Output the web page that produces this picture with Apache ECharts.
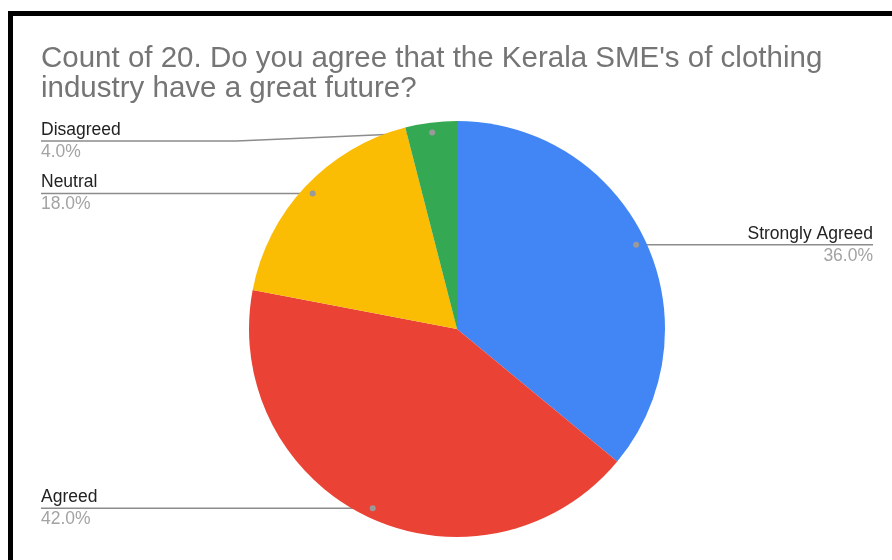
<!DOCTYPE html>
<html>
<head>
<meta charset="utf-8">
<script src="https://cdn.jsdelivr.net/npm/echarts@6/dist/echarts.min.js"></script>
<style>
  html, body { margin: 0; padding: 0; background: #fff; }
  #chart { width: 892px; height: 560px; }
</style>
</head>
<body>
<div id="chart"></div>
<script>
// Survey answers (response counts) and slice colours
const categories = ['Strongly Agreed', 'Agreed', 'Neutral', 'Disagreed'];
const counts = [18, 21, 9, 2];
const colors = ['#4285F4', '#EA4335', '#FBBC04', '#34A853'];
const titleLines = ["Count of 20. Do you agree that the Kerala SME's of clothing", 'industry have a great future?'];

// Pie geometry
const CX = 457, CY = 329, R = 208;
const DOT_R = 198;          // radius where leader lines start
const LEFT_EDGE = 41, RIGHT_EDGE = 873;
const LABEL_MIN_Y = 141;    // keep labels clear of the title

const total = counts.reduce((a, b) => a + b, 0);

// Leader-line geometry per slice, from each slice's mid-angle (clockwise from 12 o'clock)
const guides = [];
let cum = 0;
counts.forEach((v, i) => {
  const f = (cum + v / 2) / total;
  cum += v;
  const a = f * 2 * Math.PI;
  const dx = CX + DOT_R * Math.sin(a);
  const dy = CY - DOT_R * Math.cos(a);
  const left = dx < CX;
  const ly = Math.max(dy, LABEL_MIN_Y);
  const ex = left ? LEFT_EDGE : RIGHT_EDGE;
  const bx = ly === dy ? dx : (dx + ex) / 2;
  guides.push({ dx, dy, ly, ex, bx, left });
});

const chart = echarts.init(document.getElementById('chart'), null, { renderer: 'canvas' });

const font = '"Liberation Sans", Arial, sans-serif';

const graphics = [
  // frame along the top and left
  { type: 'rect', shape: { x: 8, y: 11, width: 884, height: 5 }, style: { fill: '#000' }, z: 100 },
  { type: 'rect', shape: { x: 8, y: 11, width: 5, height: 549 }, style: { fill: '#000' }, z: 100 }
];
guides.forEach(g => {
  graphics.push({ type: 'circle', shape: { cx: g.dx, cy: g.dy, r: 3 }, style: { fill: '#9a9a9a' }, z: 100 });
});

chart.setOption({
  animation: false,
  backgroundColor: '#ffffff',
  title: {
    text: titleLines.join('\n'),
    left: 36,
    top: 39,
    textStyle: {
      fontFamily: font,
      fontSize: 29.5,
      fontWeight: 'normal',
      color: '#757575',
      lineHeight: 30
    }
  },
  graphic: graphics,
  series: [{
    type: 'pie',
    center: [CX, CY],
    radius: [0, R],
    startAngle: 90,
    clockwise: true,
    data: categories.map((name, i) => ({ name, value: counts[i], itemStyle: { color: colors[i] } })),
    label: {
      show: true,
      position: 'outer',
      fontFamily: font,
      formatter: p => '{n|' + p.name + '}\n{p|' + (p.value / total * 100).toFixed(1) + '%}',
      rich: {
        n: { fontFamily: font, fontSize: 17.5, color: '#222222', lineHeight: 22 },
        p: { fontFamily: font, fontSize: 17.5, color: '#a3a3a3', lineHeight: 22 }
      }
    },
    labelLine: {
      show: true,
      lineStyle: { color: '#8c8c8c', width: 1.5 }
    },
    labelLayout: params => {
      const g = guides[params.dataIndex];
      return {
        x: g.ex,
        y: g.ly,
        align: g.left ? 'left' : 'right',
        verticalAlign: 'middle',
        labelLinePoints: [[g.dx, g.dy], [g.bx, g.ly], [g.ex, g.ly]]
      };
    }
  }]
});
</script>
</body>
</html>
